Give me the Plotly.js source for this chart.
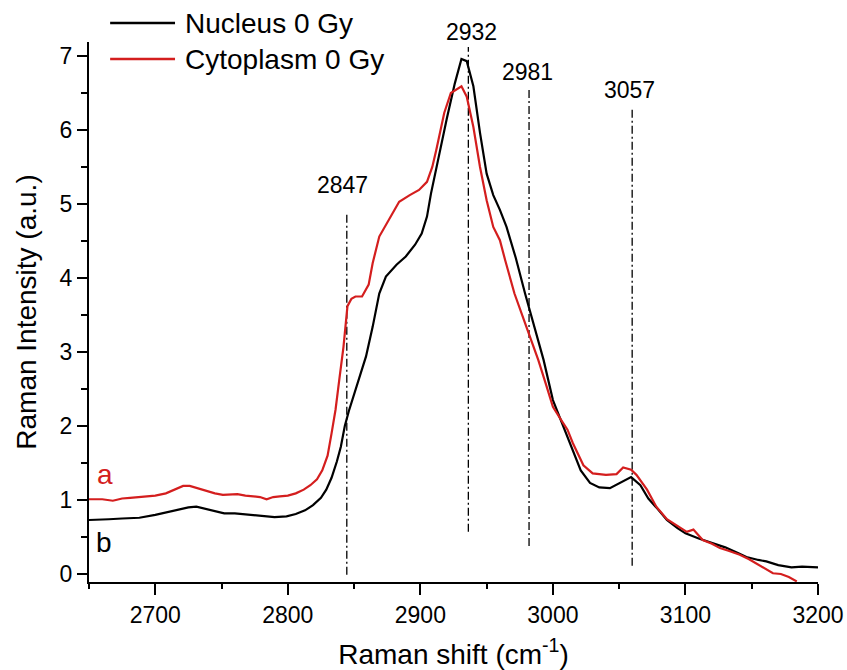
<!DOCTYPE html>
<html>
<head>
<meta charset="utf-8">
<script src="https://cdn.plot.ly/plotly-3.0.1.min.js"></script>
<style>html,body{margin:0;padding:0;background:#fff;}#chart{width:847px;height:670px;}</style>
</head>
<body>
<div id="chart"></div>
<script>
// ---- data ----
const nucleusX = [2650,2658,2665,2675,2688,2700,2710,2718,2725,2731,2738,2745,2752,2760,2770,2780,2790,2799,2806,2813,2819,2825,2829,2833,2837,2840,2843,2846,2852,2859,2864,2869,2874,2882,2889,2896,2901,2905,2908,2912,2916,2920,2926,2931,2935,2940,2945,2950,2955,2960,2965,2972,2979,2986,2993,3000,3008,3015,3021,3028,3035,3043,3050,3055,3059,3066,3072,3078,3086,3094,3100,3110,3120,3130,3140,3146,3155,3161,3170,3180,3188,3194,3200];
const nucleusY = [0.73,0.74,0.74,0.75,0.76,0.80,0.84,0.88,0.90,0.91,0.88,0.85,0.82,0.82,0.80,0.78,0.77,0.78,0.81,0.86,0.93,1.03,1.14,1.30,1.52,1.72,2.00,2.20,2.53,2.94,3.34,3.79,4.02,4.18,4.29,4.45,4.60,4.83,5.14,5.48,5.85,6.16,6.63,6.96,6.93,6.59,5.96,5.41,5.12,4.92,4.69,4.27,3.79,3.34,2.89,2.35,1.98,1.68,1.40,1.23,1.17,1.16,1.23,1.28,1.31,1.20,1.02,0.90,0.73,0.62,0.55,0.48,0.42,0.36,0.28,0.23,0.19,0.17,0.12,0.09,0.10,0.09,0.09];

const cytoX = [2650,2660,2668,2675,2681,2690,2700,2708,2715,2721,2726,2730,2738,2745,2751,2757,2762,2768,2774,2779,2784,2789,2794,2800,2806,2812,2817,2822,2826,2830,2833,2836,2839,2842,2845,2848,2851,2856,2861,2864,2869,2876,2884,2892,2899,2905,2909,2912,2918,2923,2931,2935,2940,2945,2950,2955,2960,2964,2971,2980,2989,2995,3000,3007,3011,3015,3023,3030,3040,3048,3053,3059,3063,3071,3078,3086,3096,3101,3106,3113,3120,3126,3133,3141,3148,3156,3160,3166,3172,3178,3184];
const cytoY = [1.01,1.01,0.99,1.02,1.03,1.04,1.06,1.09,1.14,1.19,1.19,1.17,1.12,1.09,1.07,1.08,1.08,1.06,1.05,1.04,1.01,1.04,1.05,1.06,1.09,1.14,1.20,1.28,1.40,1.60,1.90,2.22,2.65,3.07,3.62,3.72,3.75,3.75,3.91,4.20,4.56,4.78,5.03,5.12,5.19,5.30,5.50,5.73,6.23,6.50,6.59,6.45,6.04,5.50,5.05,4.69,4.51,4.24,3.79,3.34,2.89,2.55,2.26,2.06,1.95,1.77,1.47,1.36,1.34,1.35,1.44,1.41,1.34,1.14,0.91,0.74,0.62,0.57,0.60,0.46,0.41,0.35,0.31,0.26,0.20,0.12,0.08,0.01,0.00,-0.04,-0.10];

const seriesNames = ["Nucleus 0 Gy", "Cytoplasm 0 Gy"];

// peak marker lines
const peakLabels = ["2847","2932","2981","3057"];
const peakLineX = [2844.5, 2936.2, 2982, 3059.8];
const peakLineBottom = [-0.01, 0.57, 0.38, 0.11];
const peakLineTop = [4.89, 7.12, 6.58, 6.31];
const peakLabelX = [2841.4, 2938.8, 2980.7, 3058];
const peakLabelY = [5.26, 7.33, 6.79, 6.54];

// curve letters
const curveLetters = ["a","b"];
const curveLetterX = [2661.8, 2661.5];
const curveLetterY = [1.34, 0.42];

const xTickVals = [2700,2800,2900,3000,3100,3200];
const yTickVals = [0,1,2,3,4,5,6,7];
const xRange = [2650, 3200];
const yRange = [-0.108, 7.189];

// ---- styles ----
const FONT = "Arial, 'Liberation Sans', sans-serif";
const RED = "#d41e1e";
const colors = ["#000000", RED];
const letterColors = [RED, "#000000"];

const traces = [];
peakLineX.forEach((px, i) => {
  traces.push({
    x: [px, px], y: [peakLineBottom[i], peakLineTop[i]],
    mode: "lines", showlegend: false, hoverinfo: "skip",
    line: {color: "#000", width: 1.3, dash: "8px,3px,2px,3px"}
  });
});
traces.push({x: nucleusX, y: nucleusY, name: seriesNames[0], mode: "lines",
  line: {color: colors[0], width: 2.2}, showlegend: false});
traces.push({x: cytoX, y: cytoY, name: seriesNames[1], mode: "lines",
  line: {color: colors[1], width: 2.2}, showlegend: false});

const toPaperY = v => (v - yRange[0]) / (yRange[1] - yRange[0]);

const annotations = [];
peakLabels.forEach((t, i) => {
  annotations.push({x: peakLabelX[i], xref: "x", y: toPaperY(peakLabelY[i]), yref: "paper",
    text: t, showarrow: false, xanchor: "center", yanchor: "middle",
    font: {family: FONT, size: 23, color: "#000"}});
});
curveLetters.forEach((t, i) => {
  annotations.push({x: curveLetterX[i], xref: "x", y: curveLetterY[i], yref: "y",
    text: t, showarrow: false, xanchor: "center", yanchor: "middle",
    font: {family: FONT, size: 28, color: letterColors[i]}});
});
// manual legend
const legendRowsY = [1.035, 0.9685];
const shapes = [];
seriesNames.forEach((n, i) => {
  shapes.push({type: "line", xref: "paper", yref: "paper",
    x0: 0.029, x1: 0.118, y0: legendRowsY[i], y1: legendRowsY[i],
    line: {color: colors[i], width: 2.5}});
  annotations.push({x: 0.129, xref: "paper", y: legendRowsY[i], yref: "paper",
    text: n, showarrow: false, xanchor: "left", yanchor: "middle",
    font: {family: FONT, size: 28, color: "#000"}});
});

const layout = {
  width: 847, height: 670,
  margin: {l: 89, r: 29, t: 42, b: 88, pad: 0},
  paper_bgcolor: "#fff", plot_bgcolor: "#fff",
  font: {family: FONT, color: "#000"},
  showlegend: false,
  xaxis: {
    range: xRange, tickvals: xTickVals, showgrid: false, zeroline: false,
    showline: true, linecolor: "#000", linewidth: 2, mirror: false,
    ticks: "outside", ticklen: 11, tickwidth: 2, tickcolor: "#000",
    tickfont: {family: FONT, size: 23, color: "#000"},
    minor: {dtick: 50, ticks: "outside", ticklen: 5, tickwidth: 2, tickcolor: "#000", showgrid: false},
    title: {text: "Raman shift (cm<sup>-1</sup>)", font: {family: FONT, size: 28, color: "#000"}, standoff: 19}
  },
  yaxis: {
    range: yRange, tickvals: yTickVals, showgrid: false, zeroline: false,
    showline: true, linecolor: "#000", linewidth: 2, mirror: false,
    ticks: "outside", ticklen: 10, tickwidth: 2, tickcolor: "#000",
    tickfont: {family: FONT, size: 23, color: "#000"},
    minor: {dtick: 0.5, ticks: "outside", ticklen: 6, tickwidth: 2, tickcolor: "#000", showgrid: false},
    title: {text: "Raman Intensity (a.u.)", font: {family: FONT, size: 28, color: "#000"}, standoff: 15}
  },
  annotations: annotations,
  shapes: shapes
};

Plotly.newPlot("chart", traces, layout, {staticPlot: true, displayModeBar: false});
</script>
</body>
</html>
